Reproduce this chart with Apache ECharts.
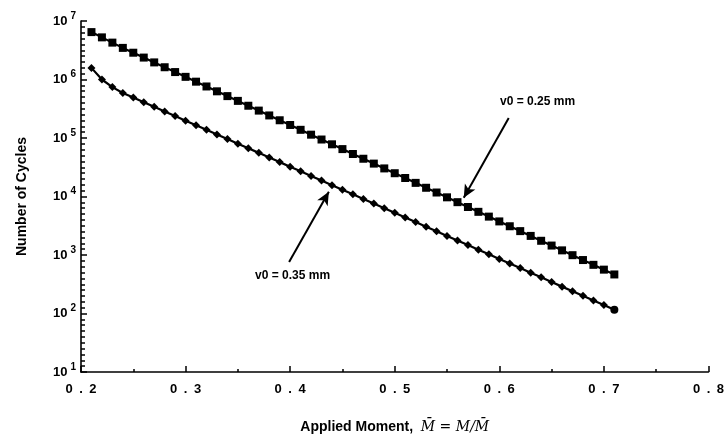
<!DOCTYPE html>
<html>
<head>
<meta charset="utf-8">
<script src="https://cdn.jsdelivr.net/npm/echarts@6/dist/echarts.min.js"></script>
<style>
html,body{margin:0;padding:0;background:#fff;}
#chart{width:727px;height:443px;}
</style>
</head>
<body>
<div id="chart"></div>
<script>
// x values (applied moment)
var moments = [0.21,0.22,0.23,0.24,0.25,0.26,0.27,0.28,0.29,0.30,
  0.31,0.32,0.33,0.34,0.35,0.36,0.37,0.38,0.39,0.40,
  0.41,0.42,0.43,0.44,0.45,0.46,0.47,0.48,0.49,0.50,
  0.51,0.52,0.53,0.54,0.55,0.56,0.57,0.58,0.59,0.60,
  0.61,0.62,0.63,0.64,0.65,0.66,0.67,0.68,0.69,0.70,0.71];

// v0 = 0.25 mm (squares)
var cycles025 = [6.46e6,5.25e6,4.27e6,3.47e6,2.87e6,2.37e6,1.96e6,1.62e6,1.34e6,1.11e6,
  9.18e5,7.60e5,6.28e5,5.20e5,4.31e5,3.56e5,2.94e5,2.43e5,2.01e5,1.67e5,
  1.38e5,1.14e5,9.42e4,7.80e4,6.46e4,5.33e4,4.42e4,3.65e4,3.02e4,2.50e4,
  2.07e4,1.71e4,1.41e4,1.17e4,9.68e3,8.00e3,6.62e3,5.47e3,4.53e3,3.75e3,
  3.10e3,2.56e3,2.12e3,1.75e3,1.45e3,1.20e3,993,820,679,562,465];

// v0 = 0.35 mm (diamonds)
var cycles035 = [1.58e6,1.00e6,7.41e5,5.89e5,4.91e5,4.09e5,3.42e5,2.85e5,2.38e5,1.98e5,
  1.65e5,1.38e5,1.15e5,9.59e4,8.00e4,6.67e4,5.57e4,4.65e4,3.87e4,3.23e4,
  2.69e4,2.25e4,1.87e4,1.56e4,1.30e4,1.09e4,9.08e3,7.57e3,6.31e3,5.26e3,
  4.39e3,3.66e3,3.05e3,2.55e3,2.12e3,1.77e3,1.48e3,1.23e3,1.03e3,857,
  714,597,498,415,346,288,241,201,167,140,116];

// annotation labels and arrow endpoints (data coords)
var label025 = 'v0 = 0.25 mm';
var label035 = 'v0 = 0.35 mm';
var arrow025 = [[0.609, 2.2e5], [0.566, 9.5e3]];
var arrow035 = [[0.399, 760], [0.437, 1.2e4]];

function pairs(xs, ys, lastSymbol) {
  return xs.map(function (x, i) {
    var item = {value: [x, ys[i]]};
    if (lastSymbol && i === xs.length - 1) { item.symbol = lastSymbol; item.symbolSize = 8; }
    return item;
  });
}

var chart = echarts.init(document.getElementById('chart'));
var font = 'Liberation Sans, Arial, sans-serif';
chart.setOption({
  animation: false,
  backgroundColor: '#fff',
  grid: {left: 81, right: 12, top: 21, bottom: 71},
  xAxis: {
    type: 'value', min: 0.2, max: 0.8, interval: 0.1,
    axisLine: {lineStyle: {color: '#000', width: 1.6}},
    axisTick: {inside: true, length: 6, lineStyle: {color: '#000', width: 1.5}},
    minorTick: {show: true, splitNumber: 2, length: 3, lineStyle: {color: '#000', width: 1.5}},
    splitLine: {show: false},
    axisLabel: {
      margin: 11, color: '#000', fontFamily: font, fontWeight: 'bold', fontSize: 13,
      formatter: function (v) { return v.toFixed(1).split('').join('\u2002'); }
    },
    name: '{a|Applied Moment,  }{m|M̄ = M/M̄}',
    nameLocation: 'middle', nameGap: 48,
    nameTextStyle: {
      rich: {
        a: {fontFamily: font, fontWeight: 'bold', fontSize: 14, color: '#000'},
        m: {fontFamily: 'DejaVu Serif, serif', fontStyle: 'italic', fontSize: 14, color: '#000'}
      }
    }
  },
  yAxis: [{
    type: 'log', logBase: 10, min: 10, max: 1e7,
    axisLine: {show: true, lineStyle: {color: '#000', width: 1.6}},
    axisTick: {show: true, inside: true, length: 6, lineStyle: {color: '#000', width: 1.5}},
    splitLine: {show: false},
    axisLabel: {
      margin: 5, color: '#000',
      formatter: function (v) {
        var e = Math.round(Math.log10(v));
        return '{b|10}{s|' + e + '}';
      },
      rich: {
        b: {fontFamily: font, fontWeight: 'bold', fontSize: 13, color: '#000'},
        s: {fontFamily: font, fontWeight: 'bold', fontSize: 10, color: '#000', padding: [0, 0, 10, 3]}
      }
    },
    name: 'Number of Cycles',
    nameLocation: 'middle', nameGap: 52, nameRotate: 90,
    nameTextStyle: {fontFamily: font, fontWeight: 'bold', fontSize: 14, color: '#000'}
  }, {
    // helper axis in decade units, only for the small inside ticks
    type: 'value', min: 1, max: 7, interval: 1, position: 'left',
    axisLine: {show: false}, axisLabel: {show: false},
    axisTick: {show: true, inside: true, length: 6, lineStyle: {color: '#000', width: 1.5}},
    splitLine: {show: false},
    minorTick: {show: true, splitNumber: 10, length: 4, lineStyle: {color: '#000', width: 1.5}}
  }],
  series: [
    {
      name: label025, type: 'line', data: pairs(moments, cycles025),
      symbol: 'rect', symbolSize: 8, showSymbol: true,
      lineStyle: {color: '#000', width: 2.2}, itemStyle: {color: '#000'},
      markLine: {
        silent: true, symbol: ['none', 'arrow'], symbolSize: [9, 13],
        lineStyle: {color: '#000', width: 2, type: 'solid'},
        label: {show: false},
        data: [[{coord: arrow025[0]}, {coord: arrow025[1]}]]
      }
    },
    {
      name: label035, type: 'line', data: pairs(moments, cycles035, 'circle'),
      symbol: 'diamond', symbolSize: 8, showSymbol: true,
      lineStyle: {color: '#000', width: 2.2}, itemStyle: {color: '#000'},
      markLine: {
        silent: true, symbol: ['none', 'arrow'], symbolSize: [9, 13],
        lineStyle: {color: '#000', width: 2, type: 'solid'},
        label: {show: false},
        data: [[{coord: arrow035[0]}, {coord: arrow035[1]}]]
      }
    }
  ],
  graphic: [
    {type: 'text', left: 500, top: 96, style: {text: label025, font: 'bold 12px ' + font, fill: '#000'}},
    {type: 'text', left: 255, top: 270, style: {text: label035, font: 'bold 12px ' + font, fill: '#000'}}
  ]
});
</script>
</body>
</html>
